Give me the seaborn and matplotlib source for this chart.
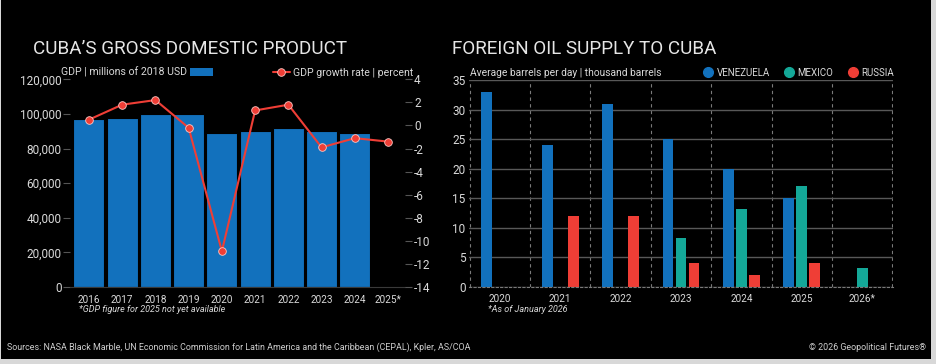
import numpy as np
import pandas as pd
import seaborn as sns
import matplotlib.pyplot as plt
from matplotlib.patches import Rectangle, Patch
from matplotlib.lines import Line2D
from matplotlib.ticker import FuncFormatter, FixedLocator

# --- data ---
gdp_years = ['2016', '2017', '2018', '2019', '2020', '2021', '2022', '2023', '2024', '2025*']
gdp_values = [96800, 97900, 100200, 100100, 89200, 90200, 92100, 90200, 89100, np.nan]
growth_rate = [0.5, 1.8, 2.2, -0.2, -10.9, 1.3, 1.8, -1.9, -1.1, -1.4]

oil_years = ['2020', '2021', '2022', '2023', '2024', '2025', '2026*']
countries = ['VENEZUELA', 'MEXICO', 'RUSSIA']
venezuela = [33, 24, 31, 25, 20, 15, np.nan]
mexico = [np.nan, np.nan, np.nan, 8.3, 13.1, 17, 3.1]
russia = [np.nan, 12, 12, 4, 2, 4, np.nan]

BLUE = '#1271bd'
TEAL = '#14a898'
RED = '#ef3e36'
TXT = '#d9d9d9'
W, H = 936, 364

sns.set_style('dark', {'axes.facecolor': 'black', 'figure.facecolor': 'black'})
plt.rcParams['font.family'] = ['Roboto', 'DejaVu Sans']
plt.rcParams['axes.unicode_minus'] = False

fig = plt.figure(figsize=(W / 100, H / 100), dpi=100, facecolor='#d8d8d8')
fig.patches.append(Rectangle((1 / W, 5 / H), 930 / W, 1 - 5 / H, transform=fig.transFigure,
                             facecolor='black', edgecolor='none', zorder=-10))

# ---------- left: GDP ----------
ax1 = fig.add_axes([70 / W, 1 - 287 / H, 335 / W, 207.7 / H])
sns.barplot(x=gdp_years, y=gdp_values, order=gdp_years, color=BLUE, saturation=1,
            width=0.93, linewidth=0.8, edgecolor='black', ax=ax1)
ax2 = ax1.twinx()
sns.lineplot(x=np.arange(len(gdp_years)), y=growth_rate, ax=ax2, color=RED, linewidth=1.5,
             marker='o', markersize=5.5, markeredgecolor='#ffc8c4', markeredgewidth=0.6)

ax1.set_xlim(-0.57, 9.51)
ax1.set_ylim(0, 120000)
ax1.set_yticks(range(0, 120001, 20000))
ax1.yaxis.set_major_formatter(FuncFormatter(lambda v, p: f'{v:,.0f}'))
ax2.set_ylim(-14, 4)
ax2.set_yticks(range(-14, 5, 2))
for a in (ax1, ax2):
    a.set_xlabel('')
    a.set_ylabel('')
    a.grid(False)
    for s in a.spines.values():
        s.set_visible(False)
ax1.spines['bottom'].set_visible(True)
ax1.spines['bottom'].set_color('#3a3a3a')
ax1.tick_params(axis='y', left=True, length=5, width=0.8, color='#555555', pad=1,
                labelsize=8.5, labelcolor=TXT)
ax1.tick_params(axis='x', length=0, pad=5.5, labelsize=7.2, labelcolor=TXT)
ax2.tick_params(axis='y', right=True, length=5, width=0.8, color='#555555', pad=1.5,
                labelsize=8.5, labelcolor=TXT)

leg1 = ax2.legend(handles=[Patch(facecolor=BLUE, edgecolor='none')],
                  labels=['GDP | millions of 2018 USD'], loc='center left',
                  bbox_to_anchor=(61 / W, 1 - 72.5 / H), bbox_transform=fig.transFigure,
                  frameon=False, markerfirst=False, handlelength=2.2, handleheight=0.9,
                  handletextpad=0.3, borderpad=0, borderaxespad=0,
                  fontsize=7.6, labelcolor=TXT)
ax2.add_artist(leg1)
ax2.legend(handles=[Line2D([], [], color=RED, lw=1.5, marker='o', markersize=5.5,
                           markeredgecolor='#ffc8c4', markeredgewidth=0.6)],
           labels=['GDP growth rate | percent'], loc='center right',
           bbox_to_anchor=(413 / W, 1 - 72.5 / H), bbox_transform=fig.transFigure,
           frameon=False, handlelength=1.6, handletextpad=0.3, borderpad=0,
           borderaxespad=0, fontsize=7.6, labelcolor=TXT)

# ---------- right: oil supply ----------
oil = pd.DataFrame({
    'year': oil_years * 3,
    'country': [c for c in countries for _ in oil_years],
    'value': venezuela + mexico + russia,
})
ax3 = fig.add_axes([469 / W, 1 - 286.7 / H, 424 / W, 206.7 / H])
sns.barplot(data=oil, x='year', y='value', hue='country', hue_order=countries,
            order=oil_years, palette=[BLUE, TEAL, RED], saturation=1, width=0.645,
            gap=0.16, linewidth=0, legend=False, ax=ax3)
ax3.set_xlim(-0.51, 6.51)
ax3.set_ylim(0, 35)
ax3.set_yticks(range(0, 36, 5))
ax3.set_xlabel('')
ax3.set_ylabel('')
ax3.set_axisbelow(True)
ax3.xaxis.set_minor_locator(FixedLocator(np.arange(-0.5, 7, 1)))
ax3.grid(False)
ax3.grid(axis='y', which='major', color='#585858', linewidth=1, linestyle='-')
ax3.grid(axis='x', which='minor', color='#7a7a7a', linewidth=0.8, linestyle=(0, (3, 3)))
for s in ax3.spines.values():
    s.set_visible(False)
ax3.spines['bottom'].set_visible(True)
ax3.spines['bottom'].set_color('#7a7a7a')
ax3.spines['bottom'].set_linestyle((0, (2, 2)))
ax3.tick_params(axis='y', length=0, pad=2.5, labelsize=8.5, labelcolor=TXT)
ax3.tick_params(axis='x', which='both', length=0, pad=5.5, labelsize=7.2, labelcolor=TXT)

ax3.legend(handles=[Line2D([], [], linestyle='', marker='o', markersize=7, color=c)
                    for c in [BLUE, TEAL, RED]],
           labels=countries, loc='center right', bbox_to_anchor=(894 / W, 1 - 72.5 / H),
           bbox_transform=fig.transFigure, ncol=3, frameon=False, handlelength=0.8,
           handletextpad=0.45, columnspacing=1.6, borderpad=0, borderaxespad=0,
           fontsize=7.0, labelcolor=TXT)

# ---------- texts ----------
fig.text(33 / W, 1 - 49.5 / H, 'CUBA\u2019S GROSS DOMESTIC PRODUCT', fontsize=13.6,
         color='#e6e6e6', va='center', ha='left')
fig.text(452 / W, 1 - 49.5 / H, 'FOREIGN OIL SUPPLY TO CUBA', fontsize=13.6,
         color='#e6e6e6', va='center', ha='left')
fig.text(470 / W, 1 - 72.5 / H, 'Average barrels per day | thousand barrels', fontsize=7.4,
         color=TXT, va='center', ha='left')
fig.text(79 / W, 1 - 310 / H, '*GDP figure for 2025 not yet available', fontsize=6.5,
         style='italic', color=TXT, va='center', ha='left')
fig.text(488 / W, 1 - 310 / H, '*As of January 2026', fontsize=6.5,
         style='italic', color=TXT, va='center', ha='left')
fig.text(7 / W, 1 - 347 / H, 'Sources: NASA Black Marble, UN Economic Commission for Latin '
         'America and the Caribbean (CEPAL), Kpler, AS/COA', fontsize=6.4, color='#cfcfcf',
         va='center', ha='left')
fig.text(926 / W, 1 - 347 / H, '\u00a9 2026 Geopolitical Futures\u00ae', fontsize=6.4,
         color='#cfcfcf', va='center', ha='right')

fig.savefig('out.png', dpi=100, facecolor=fig.get_facecolor())
